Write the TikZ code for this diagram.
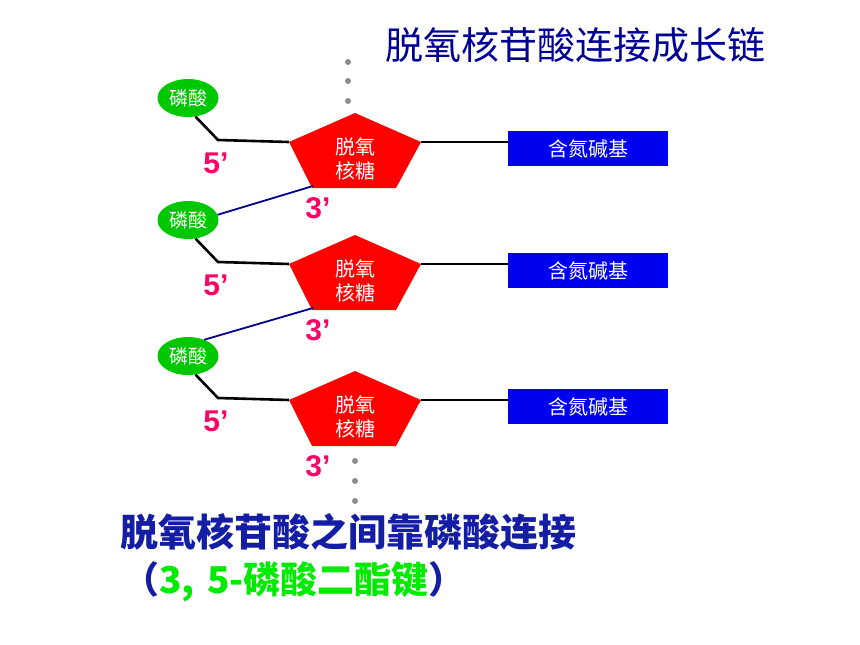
\documentclass[tikz,border=0pt]{standalone}
\usepackage{fontspec}
\setmainfont{Liberation Sans}
\newfontfamily\cjk{Noto Sans CJK SC}
\usetikzlibrary{shapes.geometric}
\definecolor{titlenavy}{RGB}{0,0,150}
\definecolor{botblue}{RGB}{20,30,165}
\definecolor{brightgreen}{RGB}{0,235,0}
\definecolor{phosgreen}{RGB}{0,200,0}
\definecolor{basebl}{RGB}{0,0,240}
\definecolor{primecol}{RGB}{255,0,102}
\definecolor{bondblue}{RGB}{0,0,140}
\definecolor{dotgray}{RGB}{140,140,140}
\tikzset{
  phos/.style={ellipse,fill=phosgreen,minimum width=61pt,minimum height=38pt,inner sep=0pt,
    text=white,font=\cjk\fontsize{19}{20}\selectfont},
  basebox/.style={rectangle,fill=basebl,minimum width=160pt,minimum height=35pt,inner sep=0pt,
    text=white,font=\cjk\fontsize{20}{22}\selectfont},
  sugartext/.style={text=white,font=\cjk\fontsize{20}{24}\selectfont,align=center,inner sep=0pt},
  primelab/.style={text=primecol,font=\bfseries\fontsize{30}{32}\selectfont,inner sep=0pt},
  blackbond/.style={draw=black,line width=2.6pt},
  bluebond/.style={draw=bondblue,line width=1.8pt},
  gdot/.style={fill=dotgray,circle,inner sep=0pt,minimum size=6pt},
}
\begin{document}
\begin{tikzpicture}[x=1pt,y=-1pt]
\useasboundingbox (0,0) rectangle (860,645);
\fill[white] (0,0) rectangle (860,645);

% title
\node[anchor=west,inner sep=0pt,text=titlenavy,font=\cjk\fontsize{38}{40}\selectfont] (title) at (385,45) {脱氧核苷酸连接成长链};

% dots
\node[gdot] (d1) at (348,62) {};
\node[gdot] (d2) at (348,81) {};
\node[gdot] (d3) at (348,101) {};
\node[gdot] (d4) at (355,461) {};
\node[gdot] (d5) at (355,481) {};
\node[gdot] (d6) at (355,501) {};

\foreach \i/\Y in {1/142,2/264,3/400}{
  \coordinate (s\i-t) at (355,\Y-29);
  \coordinate (s\i-l) at (289,\Y);
  \coordinate (s\i-r) at (421,\Y);
  \coordinate (s\i-br) at (396,\Y+46);
  \coordinate (s\i-bl) at (312,\Y+46);
  \fill[red] (s\i-t) -- (s\i-r) -- (s\i-br) -- (s\i-bl) -- (s\i-l) -- cycle;
  \node[sugartext] (sug\i) at (355,\Y+17) {脱氧\\核糖};
  \node[phos] (p\i) at (188,\Y-44) {磷酸};
  \node[basebox] (b\i) at (588,\Y+6.5) {含氮碱基};
  \coordinate (k\i) at (218,\Y-2);
  \draw[blackbond] (p\i.-68) -- (k\i) -- (s\i-l);
  \draw[blackbond] (s\i-r) -- (s\i-r -| b\i.west);
  \node[primelab] (five\i) at (216,\Y+21) {5’};
  \node[primelab] (three\i) at (318,\Y+66) {3’};
}
\draw[bluebond] (s1-bl) ++(1,-2) coordinate (c1) (c1) -- (p2.10);
\draw[bluebond] (s2-bl) ++(1,-2) coordinate (c2) (c2) -- (p3.45);

% bottom text
\node[anchor=west,inner sep=0pt,text=botblue,font=\cjk\bfseries\fontsize{38}{40}\selectfont] (bot1) at (120,532) {脱氧核苷酸之间靠磷酸连接};
\node[anchor=west,inner sep=0pt,font=\cjk\bfseries\fontsize{37}{40}\selectfont] (bot2) at (122,582) {\textcolor{botblue}{（}\textcolor{brightgreen}{3,\,\,5-磷酸二酯键}\textcolor{botblue}{）}};
\end{tikzpicture}
\end{document}
